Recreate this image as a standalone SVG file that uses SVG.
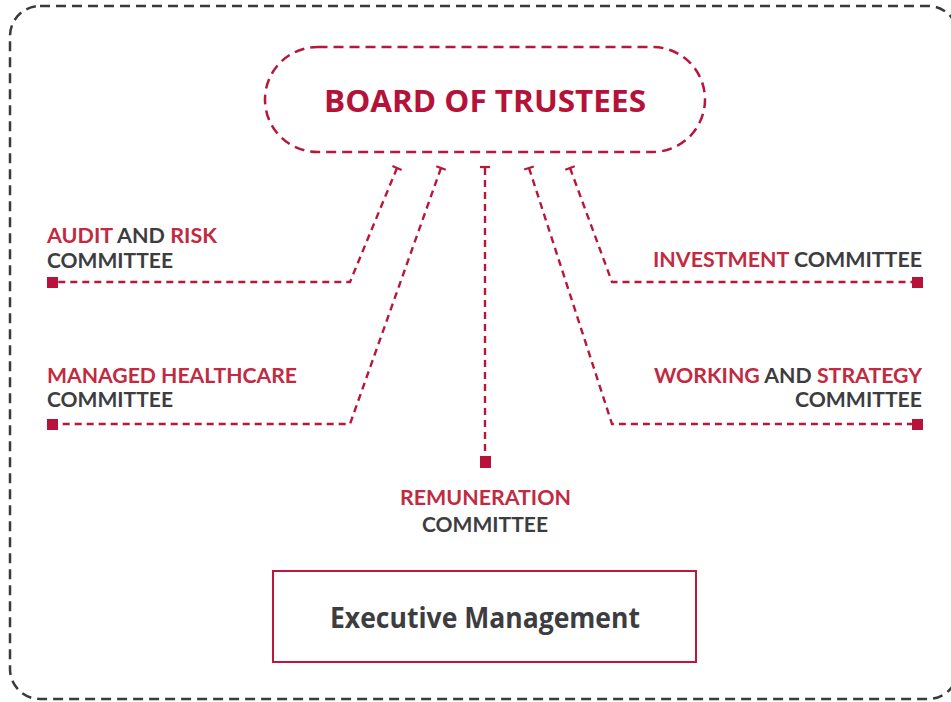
<svg xmlns="http://www.w3.org/2000/svg" width="951" height="702" viewBox="0 0 951 702">
<style>
.frame{fill:none;stroke:#3a3a3c;stroke-width:2.5;stroke-dasharray:10 6}
.pill{fill:none;stroke:#b8163a;stroke-width:2.5;stroke-dasharray:10 6}
.conn{fill:none;stroke:#b8163a;stroke-width:2.4;stroke-dasharray:7 5}
.tick{fill:none;stroke:#b8163a;stroke-width:2.2}
.sq{fill:#b8123a}
.t{font-family:"Open Sans","Noto Sans","Liberation Sans",sans-serif;font-weight:700}
.l{font-family:Lato,"Open Sans","Liberation Sans",sans-serif;font-weight:700}
.r{fill:#c12a41}
.g{fill:#3d3d3f}
</style>
<rect class="frame" x="10" y="6" width="948" height="693" rx="30"/>
<g id="board">
<rect class="pill" x="265" y="47" width="440" height="105" rx="52.5"/>
<text class="t" x="485" y="112" font-size="30" text-anchor="middle" fill="#b5123a" textLength="322" lengthAdjust="spacingAndGlyphs">BOARD OF TRUSTEES</text>
</g>
<g id="connectors">
<path class="conn" d="M397,168 L350,282 L58,282"/>
<path class="conn" d="M441,168 L350,424 L58,424"/>
<path class="conn" d="M485,168 L485,456"/>
<path class="conn" d="M570,168 L612,282 L912,282"/>
<path class="conn" d="M529,168 L612,424 L912,424"/>
<line class="tick" x1="392.4" y1="166.1" x2="401.6" y2="169.9"/>
<line class="tick" x1="436.3" y1="166.3" x2="445.7" y2="169.7"/>
<line class="tick" x1="480" y1="167" x2="490" y2="167"/>
<line class="tick" x1="565.3" y1="169.7" x2="574.7" y2="166.3"/>
<line class="tick" x1="524.2" y1="169.5" x2="533.8" y2="166.5"/>
</g>
<g id="audit">
<rect class="sq" x="47" y="277" width="11" height="11"/>
<text class="l" x="47" y="243" font-size="20" textLength="170" lengthAdjust="spacingAndGlyphs"><tspan class="r">AUDIT</tspan><tspan class="g"> AND </tspan><tspan class="r">RISK</tspan></text>
<text class="l g" x="47" y="268" font-size="20" textLength="126" lengthAdjust="spacingAndGlyphs">COMMITTEE</text>
</g>
<g id="managed">
<rect class="sq" x="47" y="419" width="11" height="11"/>
<text class="l r" x="47" y="383" font-size="20" textLength="250" lengthAdjust="spacingAndGlyphs">MANAGED HEALTHCARE</text>
<text class="l g" x="47" y="407" font-size="20" textLength="126" lengthAdjust="spacingAndGlyphs">COMMITTEE</text>
</g>
<g id="remuneration">
<rect class="sq" x="480" y="456" width="11" height="12"/>
<text class="l r" x="485.5" y="505" font-size="20" text-anchor="middle" textLength="171" lengthAdjust="spacingAndGlyphs">REMUNERATION</text>
<text class="l g" x="485" y="532" font-size="20" text-anchor="middle" textLength="126" lengthAdjust="spacingAndGlyphs">COMMITTEE</text>
</g>
<g id="investment">
<rect class="sq" x="912" y="277" width="11" height="11"/>
<text class="l" x="922" y="267" font-size="20" text-anchor="end" textLength="269" lengthAdjust="spacingAndGlyphs"><tspan class="r">INVESTMENT</tspan><tspan class="g"> COMMITTEE</tspan></text>
</g>
<g id="working">
<rect class="sq" x="912" y="419" width="11" height="11"/>
<text class="l" x="922" y="383" font-size="20" text-anchor="end" textLength="268" lengthAdjust="spacingAndGlyphs"><tspan class="r">WORKING</tspan><tspan class="g"> AND </tspan><tspan class="r">STRATEGY</tspan></text>
<text class="l g" x="922" y="407" font-size="20" text-anchor="end" textLength="127" lengthAdjust="spacingAndGlyphs">COMMITTEE</text>
</g>
<g id="executive">
<rect x="273" y="571" width="423" height="91" fill="none" stroke="#c0163a" stroke-width="2"/>
<text class="t g" x="485" y="628" font-size="29" text-anchor="middle" textLength="310" lengthAdjust="spacingAndGlyphs">Executive Management</text>
</g>
</svg>
